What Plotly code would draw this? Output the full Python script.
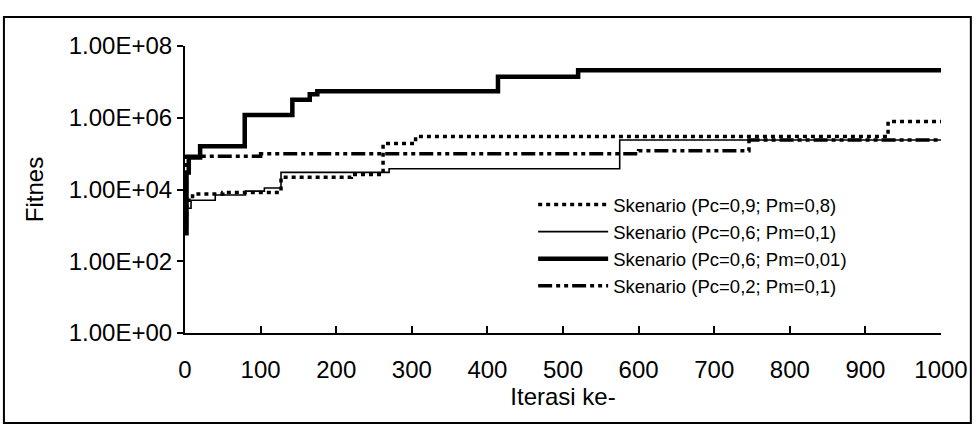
import plotly.graph_objects as go

# Data: step series, iteration -> fitness
it_a = [0, 2, 10, 50, 127, 220, 262, 305, 930, 1000]
fit_a = [2e3, 5e3, 7.5e3, 8.3e3, 2.2e4, 2.6e4, 1.9e5, 3.0e5, 7.8e5, 7.8e5]

it_b = [0, 3, 8, 40, 80, 105, 127, 270, 575, 1000]
fit_b = [1.5e3, 3e3, 5e3, 7e3, 9e3, 1.1e4, 3e4, 3.8e4, 2.4e5, 2.4e5]

it_c = [0, 2, 5, 20, 79, 142, 165, 175, 414, 520, 1000]
fit_c = [6e2, 3e4, 7.8e4, 1.6e5, 1.2e6, 3.2e6, 4.5e6, 5.5e6, 1.4e7, 2.1e7, 2.3e7]

it_d = [0, 2, 100, 600, 746, 1000]
fit_d = [1e3, 8.5e4, 1.0e5, 1.2e5, 2.4e5, 2.4e5]

names = [
    "Skenario (Pc=0,9; Pm=0,8)",
    "Skenario (Pc=0,6; Pm=0,1)",
    "Skenario (Pc=0,6; Pm=0,01)",
    "Skenario (Pc=0,2; Pm=0,1)",
]

y_tickvals = [1, 1e2, 1e4, 1e6, 1e8]
y_ticktext = ["1.00E+00", "1.00E+02", "1.00E+04", "1.00E+06", "1.00E+08"]
x_tickvals = [0, 100, 200, 300, 400, 500, 600, 700, 800, 900, 1000]

FONT = "Liberation Sans, Arial, sans-serif"

fig = go.Figure()
fig.add_trace(go.Scatter(x=it_a, y=fit_a, name=names[0], mode="lines", line_shape="hv",
                         line=dict(color="black", width=3.5, dash="4px,4px")))
fig.add_trace(go.Scatter(x=it_b, y=fit_b, name=names[1], mode="lines", line_shape="hv",
                         line=dict(color="black", width=1.6)))
fig.add_trace(go.Scatter(x=it_c, y=fit_c, name=names[2], mode="lines", line_shape="hv",
                         line=dict(color="black", width=4.5)))
fig.add_trace(go.Scatter(x=it_d, y=fit_d, name=names[3], mode="lines", line_shape="hv",
                         line=dict(color="black", width=3.5, dash="14px,4px,4px,4px,4px,4px")))

fig.update_layout(
    width=980, height=426,
    margin=dict(l=185, r=35, t=46, b=93),
    paper_bgcolor="white", plot_bgcolor="white",
    font=dict(family=FONT, color="black", size=24),
    showlegend=True,
    legend=dict(x=0.4605, y=0.512, xanchor="left", yanchor="top",
                bgcolor="rgba(0,0,0,0)", font=dict(size=18.5, family=FONT),
                tracegroupgap=0, itemwidth=70),
    xaxis=dict(range=[0, 1000], tickvals=x_tickvals, ticks="inside", ticklen=7,
               tickwidth=2, tickcolor="black", showline=True, linecolor="black",
               linewidth=2, showgrid=False, zeroline=False, ticklabelstandoff=14,
               tickfont=dict(size=24), title=dict(text="Iterasi ke-", font=dict(size=24), standoff=4)),
    yaxis=dict(type="log", range=[0, 8], tickvals=y_tickvals, ticktext=y_ticktext,
               ticks="outside", ticklen=6, tickwidth=2, tickcolor="black",
               showline=True, linecolor="black", linewidth=2, showgrid=False,
               zeroline=False, tickfont=dict(size=24),
               title=dict(text="Fitnes", font=dict(size=24), standoff=18)),
    shapes=[dict(type="rect", xref="paper", yref="paper",
                 x0=-0.2395, x1=1.0395, y0=-0.3136, y1=1.101,
                 line=dict(color="black", width=2), fillcolor="rgba(0,0,0,0)")],
)

fig.write_html("out.html", config={"displayModeBar": False},
               post_script="document.body.style.margin='0';")
